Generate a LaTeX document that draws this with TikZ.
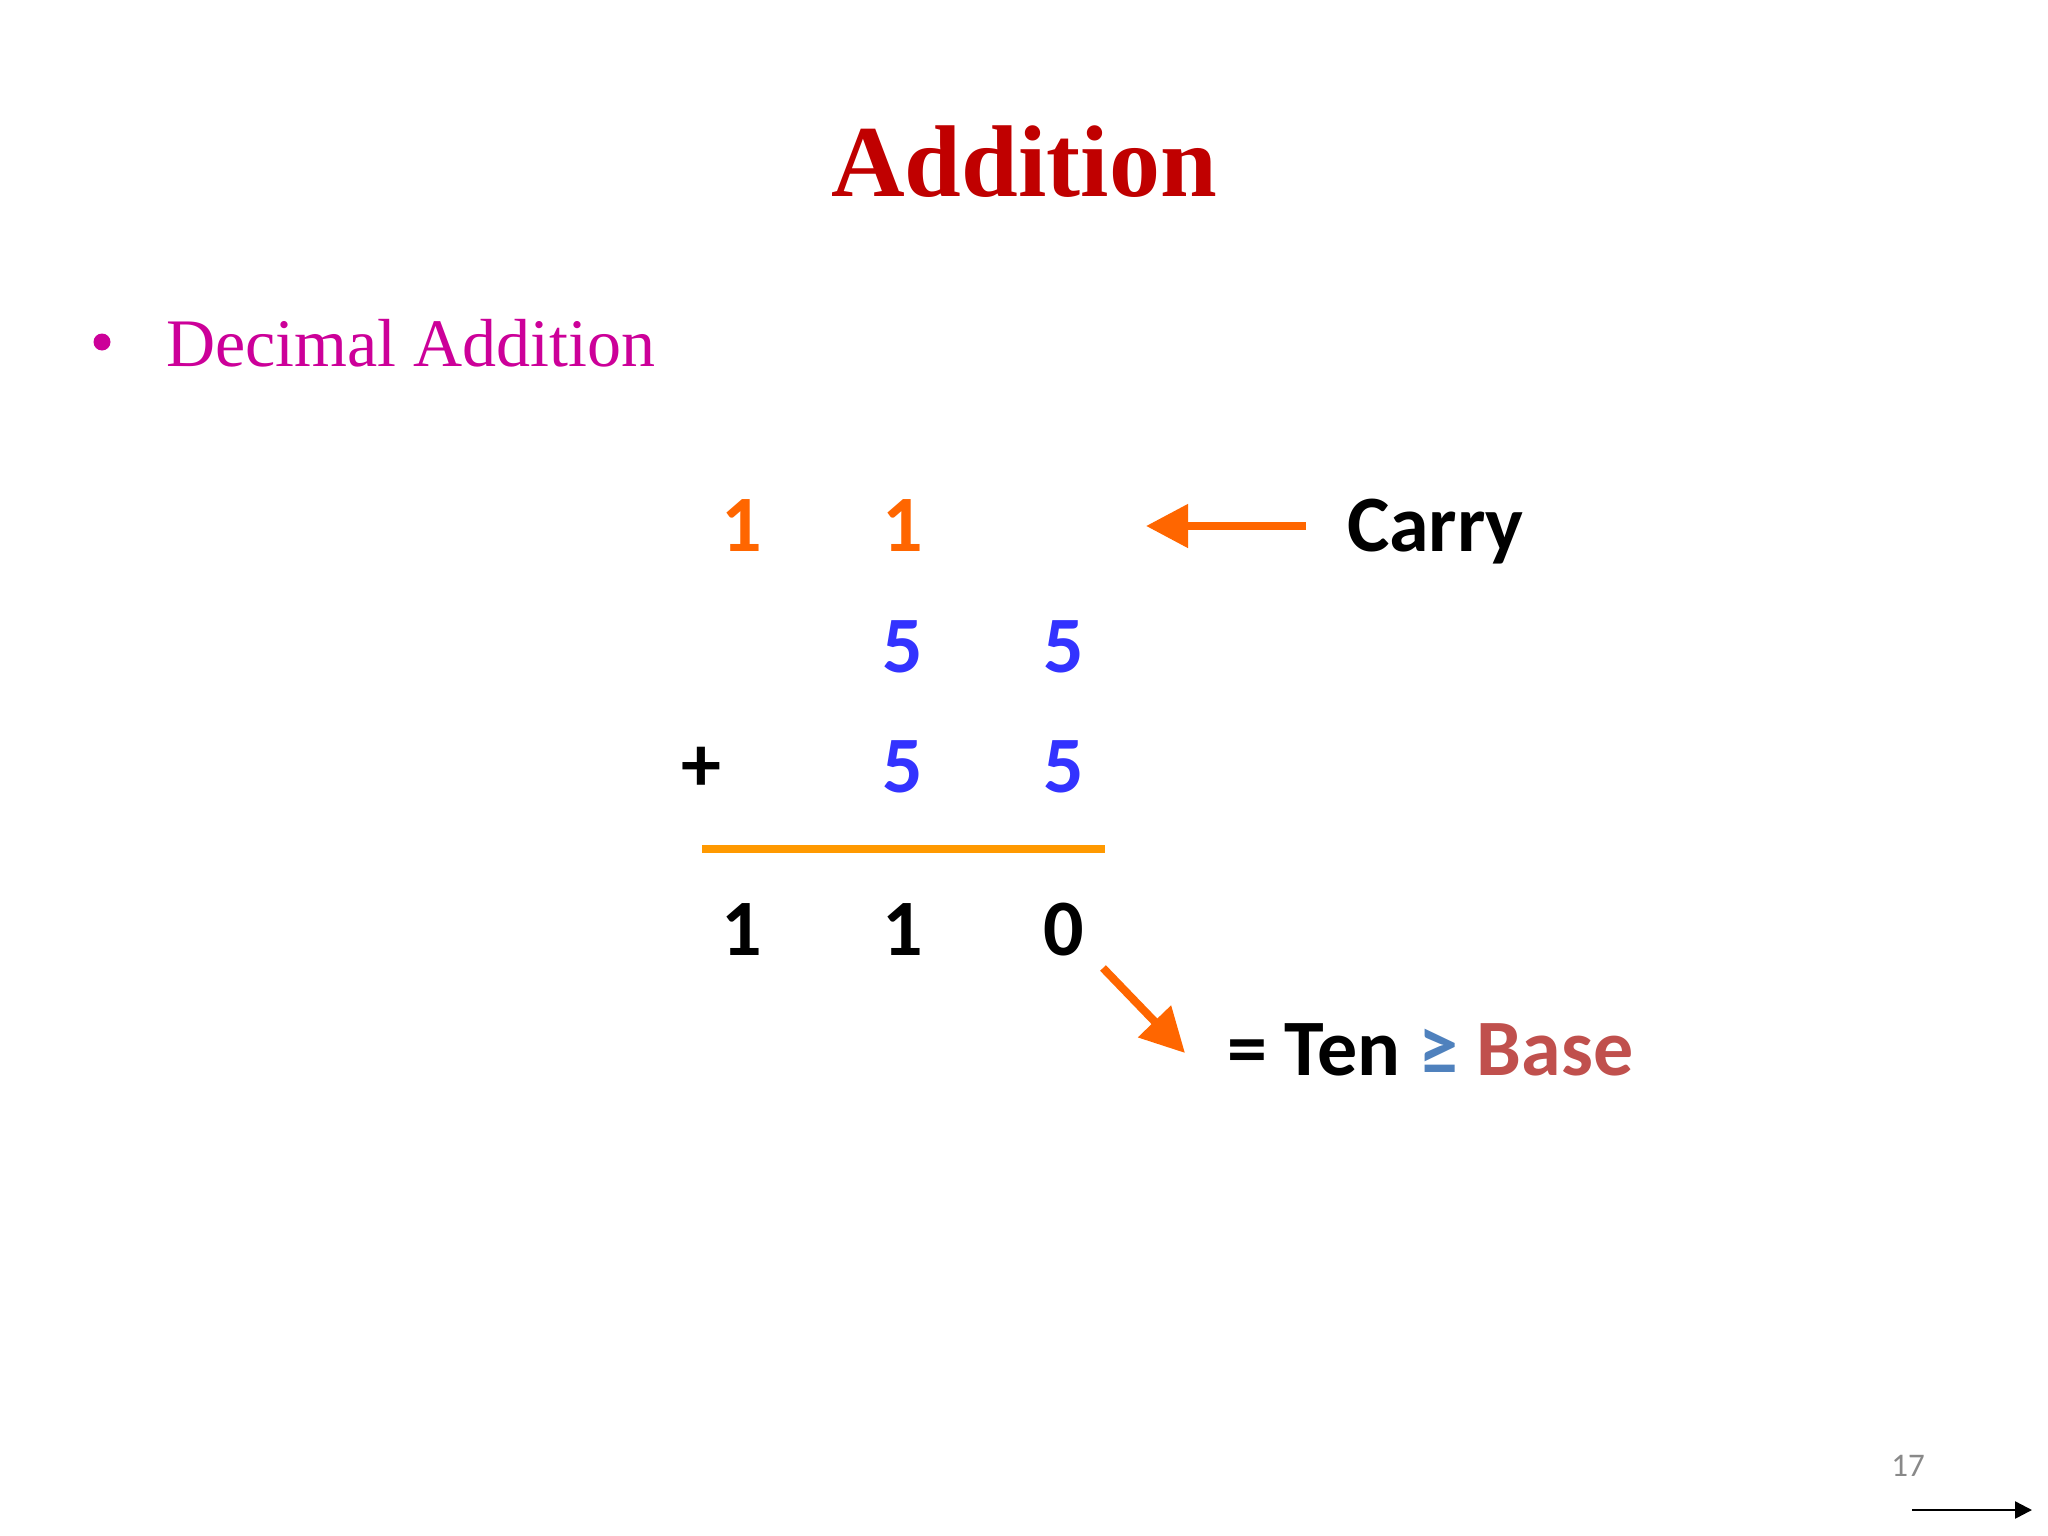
\documentclass[tikz,border=0pt]{standalone}
\usepackage{fontspec}
\setmainfont{Liberation Serif}
\newfontfamily\calfont{Carlito}
\usetikzlibrary{arrows.meta}
\definecolor{titlered}{HTML}{C00000}
\definecolor{bulletmag}{HTML}{CC0099}
\definecolor{carryorange}{HTML}{FF6600}
\definecolor{digitblue}{HTML}{3333FF}
\definecolor{lineorange}{HTML}{FF9900}
\definecolor{geblue}{HTML}{4F81BD}
\definecolor{basered}{HTML}{C0504D}
\definecolor{pagegray}{HTML}{898989}
\begin{document}
\begin{tikzpicture}[x=1pt,y=-1pt,
  txt/.style={inner sep=0pt, outer sep=0pt},
  digit/.style={txt, anchor=base, font=\calfont\bfseries\fontsize{80}{90}\selectfont},
  carrydigit/.style={digit, text=carryorange},
  bluedigit/.style={digit, text=digitblue},
  resdigit/.style={digit, text=black},
  bigarrow/.style={carryorange, line width=8pt},
]
\useasboundingbox[fill=white] (0,0) rectangle (2048,1536);

% title
\node[txt, anchor=base, text=titlered, font=\bfseries\fontsize{102}{110}\selectfont] (title) at (1024,196) {Addition};

% bullet
\node[circle, fill=bulletmag, minimum size=17pt, inner sep=0pt] (bullet) at (102,342) {};
\node[txt, anchor=base west, text=bulletmag, font=\fontsize{68}{76}\selectfont] (sub) at (166,366) {Decimal Addition};

% carry row
\node[carrydigit] (c1) at (742,551) {1};
\node[carrydigit] (c2) at (903,551) {1};

% first addend
\node[bluedigit] (a1) at (903,672) {5};
\node[bluedigit] (a2) at (1064,672) {5};

% second addend
\node[digit, anchor=center] (plus) at (701,769) {+};
\node[bluedigit] (b1) at (903,792) {5};
\node[bluedigit] (b2) at (1064,792) {5};

% sum line
\coordinate (lineL) at (702,848.5);
\coordinate (lineR) at (1105,848.5);
\draw[lineorange, line width=8pt] (lineL) -- (lineR);

% result
\node[resdigit] (r1) at (742,955) {1};
\node[resdigit] (r2) at (903,955) {1};
\node[resdigit] (r3) at (1064,955) {0};

% carry label and arrow
\node[txt, anchor=base west, font=\calfont\bfseries\fontsize{80}{90}\selectfont] (carry) at (1347,551) {Carry};
\coordinate (carrytail) at (1306,526);
\coordinate (carrytip) at (1146,526);
\draw[bigarrow, -{Triangle[length=42pt,width=42pt]}] (carrytail) -- (carrytip);

% base label and arrow
\node[txt, anchor=base west, font=\calfont\bfseries\fontsize{80}{90}\selectfont] (base) at (1227,1075) {= Ten \textcolor{geblue}{≥} \textcolor{basered}{Base}};
\coordinate (diagtail) at (1103,968);
\coordinate (diagtip) at (1185,1053);
\draw[bigarrow, -{Triangle[length=44pt,width=44pt]}] (diagtail) -- (diagtip);

% page number and next arrow
\node[txt, anchor=base, text=pagegray, font=\calfont\fontsize{33}{40}\selectfont] (page) at (1908,1476) {17};
\coordinate (nextL) at (1912,1510);
\coordinate (nextR) at (2032,1510);
\draw[black, line width=2.5pt, -{Triangle[length=17pt,width=17pt]}] (nextL) -- (nextR);
\end{tikzpicture}
\end{document}
